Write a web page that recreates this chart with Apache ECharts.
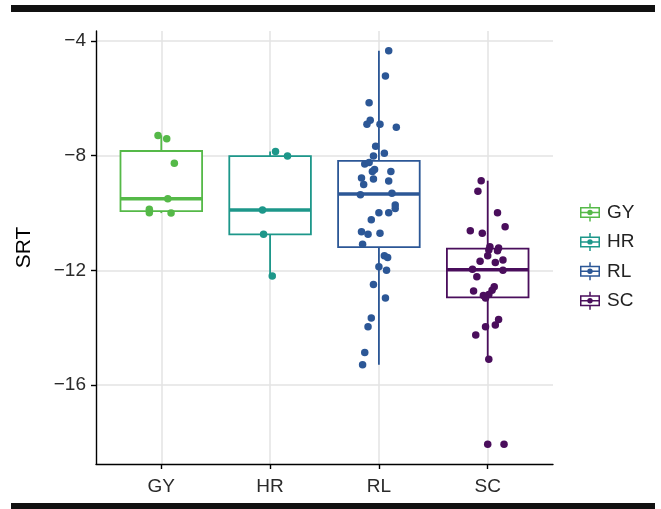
<!DOCTYPE html>
<html>
<head>
<meta charset="utf-8">
<script src="https://cdn.jsdelivr.net/npm/echarts@6/dist/echarts.min.js"></script>
<style>html,body{margin:0;padding:0;background:#fff;}#c{width:661px;height:509px;}</style>
</head>
<body>
<div id="c"></div>
<script>
const categories = ['GY', 'HR', 'RL', 'SC'];
const colors = ['#55B948', '#1D978A', '#2C5796', '#4A0E5C'];
const yTicks = [-16, -12, -8, -4];

// SRT values per group
const gyValues = [-7.29, -7.41, -8.26, -9.50, -9.87, -9.99, -10.00];
const hrValues = [-7.85, -8.01, -9.89, -10.74, -12.19];
const rlValues = [-4.34, -5.22, -6.15, -6.76, -6.90, -6.90, -7.01, -7.67, -7.91, -8.01,
  -8.29, -8.24, -8.55, -8.48, -8.55, -8.78, -9.00, -8.81, -8.88, -9.36,
  -9.31, -9.72, -9.84, -9.99, -9.99, -10.23, -10.65, -10.74, -10.70, -11.09,
  -11.49, -11.55, -11.87, -11.99, -12.49, -12.96, -13.66, -13.96, -14.86, -15.29];
const scValues = [-8.87, -9.24, -9.99, -10.62, -10.70, -10.48, -11.17, -11.29, -11.22, -11.31,
  -11.49, -11.68, -11.72, -11.64, -11.96, -11.99, -12.22, -12.57, -12.69, -12.72,
  -12.84, -12.87, -12.96, -13.71, -13.90, -13.96, -14.25, -15.10, -18.06, -18.06];

// horizontal jitter of each point (category units)
const gyJitter = [-0.03, 0.05, 0.12, 0.06, -0.11, -0.11, 0.09];
const hrJitter = [0.05, 0.16, -0.07, -0.06, 0.02];
const rlJitter = [0.09, 0.06, -0.09, -0.08, -0.11, 0.01, 0.16, -0.03, 0.05, -0.05,
  -0.13, -0.09, -0.06, -0.04, 0.11, -0.16, -0.14, -0.05, 0.09, -0.17,
  0.12, 0.15, 0.15, 0.09, 0.00, -0.07, -0.16, -0.10, 0.01, -0.15,
  0.05, 0.08, 0.00, 0.07, -0.05, 0.06, -0.07, -0.10, -0.13, -0.15];
const scJitter = [-0.06, -0.09, 0.09, -0.16, -0.05, 0.16, 0.02, 0.01, 0.10, 0.09,
  0.00, -0.07, 0.07, 0.14, -0.14, 0.14, -0.10, 0.06, 0.04, -0.13,
  0.01, -0.04, -0.02, 0.10, 0.07, -0.02, -0.11, 0.01, 0.00, 0.15];

const groups = [gyValues, hrValues, rlValues, scValues];
const jitters = [gyJitter, hrJitter, rlJitter, scJitter];

function quantile(sorted, p) {
  const h = (sorted.length - 1) * p;
  const lo = Math.floor(h), hi = Math.ceil(h);
  return sorted[lo] + (h - lo) * (sorted[hi] - sorted[lo]);
}
function boxStats(vals) {
  const s = vals.slice().sort((a, b) => a - b);
  const q1 = quantile(s, 0.25), med = quantile(s, 0.5), q3 = quantile(s, 0.75);
  const iqr = q3 - q1;
  const lo = Math.min(...s.filter(v => v >= q1 - 1.5 * iqr));
  const hi = Math.max(...s.filter(v => v <= q3 + 1.5 * iqr));
  return [lo, q1, med, q3, hi];
}
const boxData = groups.map((g, i) => [i].concat(boxStats(g)));

const legendIcon = 'path://M0 3.5H20V14.5H0Z M1.5 5V13H18.5V5Z M1.5 8.25H18.5V9.75H1.5Z M9.25 0H10.75V3.5H9.25Z M9.25 14.5H10.75V18H9.25Z M7.3 9A2.7 2.7 0 1 1 12.7 9A2.7 2.7 0 1 1 7.3 9Z';

const chart = echarts.init(document.getElementById('c'), null, {renderer: 'canvas'});
const series = [{
  type: 'custom',
  name: 'box',
  silent: true,
  data: boxData,
  encode: {x: 0, y: [1, 2, 3, 4, 5]},
  renderItem: function (params, api) {
    const i = api.value(0);
    const c = colors[i];
    const half = 0.375;
    const pLo = api.coord([i, api.value(1)]);
    const pQ1 = api.coord([i, api.value(2)]);
    const pMed = api.coord([i, api.value(3)]);
    const pQ3 = api.coord([i, api.value(4)]);
    const pHi = api.coord([i, api.value(5)]);
    const xl = api.coord([i - half, 0])[0];
    const xr = api.coord([i + half, 0])[0];
    const ls = {stroke: c, lineWidth: 1.8};
    return {
      type: 'group',
      children: [
        {type: 'line', shape: {x1: pHi[0], y1: pHi[1], x2: pQ3[0], y2: pQ3[1]}, style: ls},
        {type: 'line', shape: {x1: pLo[0], y1: pLo[1], x2: pQ1[0], y2: pQ1[1]}, style: ls},
        {type: 'rect', shape: {x: xl, y: pQ3[1], width: xr - xl, height: pQ1[1] - pQ3[1]},
          style: {fill: '#fff', stroke: c, lineWidth: 1.8}},
        {type: 'line', shape: {x1: xl, y1: pMed[1], x2: xr, y2: pMed[1]}, style: {stroke: c, lineWidth: 3.4}}
      ]
    };
  },
  z: 2
}];
categories.forEach((name, i) => {
  series.push({
    type: 'scatter',
    name: name,
    data: groups[i].map((v, k) => [i + jitters[i][k], v]),
    symbolSize: 7.5,
    itemStyle: {color: colors[i], opacity: 1},
    z: 3
  });
});

chart.setOption({
  animation: false,
  backgroundColor: '#fff',
  textStyle: {fontFamily: 'Liberation Sans, Arial, sans-serif'},
  grid: {left: 96, right: 108, top: 31, bottom: 45, containLabel: false},
  xAxis: {
    type: 'value', min: -0.6, max: 3.6,
    axisLine: {show: true, onZero: false, lineStyle: {color: '#000', width: 1.4}},
    axisTick: {show: true, customValues: [0, 1, 2, 3], length: 5, lineStyle: {color: '#000', width: 1.4}},
    axisLabel: {customValues: [0, 1, 2, 3], formatter: v => categories[Math.round(v)], fontSize: 19, color: '#2a2a2a', margin: 13},
    splitLine: {show: true, lineStyle: {color: '#e3e3e3', width: 1.5}}
  },
  yAxis: {
    type: 'value', min: -18.75, max: -3.65,
    name: 'SRT', nameLocation: 'middle', nameGap: 61, nameRotate: 90,
    nameTextStyle: {fontSize: 21, color: '#000'},
    axisLine: {show: true, onZero: false, lineStyle: {color: '#000', width: 1.4}},
    axisTick: {show: true, customValues: yTicks, length: 5, lineStyle: {color: '#000', width: 1.4}},
    axisLabel: {customValues: yTicks, formatter: v => String(v).replace('-', '\u2212'), fontSize: 19, color: '#2a2a2a', margin: 10},
    splitLine: {show: true, lineStyle: {color: '#e3e3e3', width: 1.5}}
  },
  legend: {
    orient: 'vertical', left: 580, top: 203, padding: 0,
    itemWidth: 20, itemHeight: 18, itemGap: 10.4,
    icon: legendIcon,
    data: categories,
    textStyle: {fontSize: 19, color: '#222', padding: [0, 0, 0, 2]}
  },
  graphic: [
    {type: 'rect', shape: {x: 11, y: 5, width: 644, height: 7}, style: {fill: '#111'}},
    {type: 'rect', shape: {x: 11, y: 503, width: 644, height: 7}, style: {fill: '#111'}}
  ],
  series: series
});
</script>
</body>
</html>
